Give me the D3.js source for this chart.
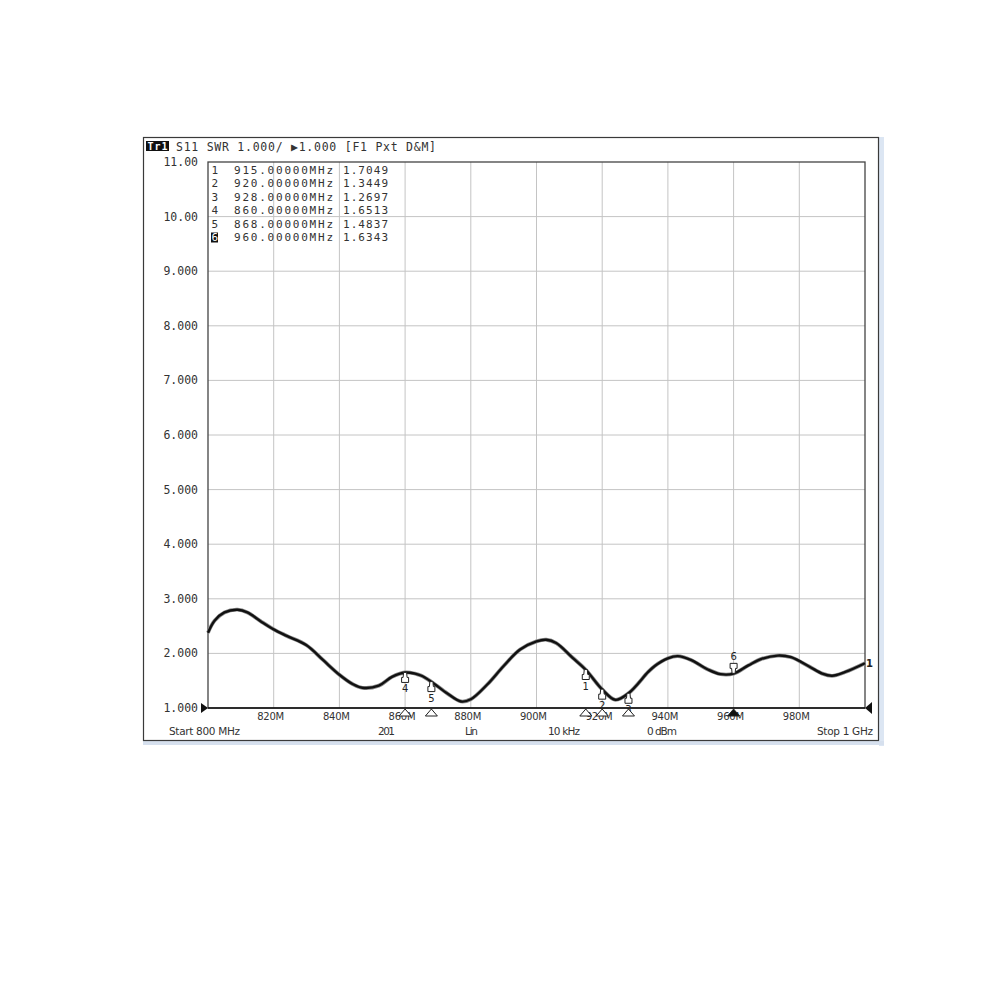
<!DOCTYPE html>
<html>
<head>
<meta charset="utf-8">
<script src="https://cdn.jsdelivr.net/npm/d3@7"></script>
<style>
    html, body { margin: 0; padding: 0; background: #ffffff; }
    svg { display: block; }
</style>
</head>
<body>
<script>
const width = 1000;
const height = 1000;

// trace (MHz, SWR)
const freqs = [800, 802, 805, 809, 812, 816, 820, 824, 830, 835, 840, 844, 847, 852, 856, 860, 863, 865, 868, 873, 877, 880, 885, 890, 895, 900, 903, 906, 911, 915, 920, 924, 928, 934, 936, 940, 943, 947, 952, 956, 960, 964.5, 968.5, 973.5, 977.5, 983, 987, 990, 994, 1000];
const swr = [2.38, 2.60, 2.75, 2.80, 2.75, 2.59, 2.44, 2.32, 2.15, 1.88, 1.61, 1.44, 1.37, 1.41, 1.57, 1.65, 1.63, 1.59, 1.48, 1.26, 1.12, 1.16, 1.43, 1.77, 2.07, 2.22, 2.25, 2.19, 1.92, 1.70, 1.34, 1.15, 1.27, 1.66, 1.77, 1.91, 1.95, 1.88, 1.71, 1.62, 1.63, 1.78, 1.90, 1.96, 1.93, 1.76, 1.63, 1.59, 1.66, 1.82];

// marker table
const markerIds = [1, 2, 3, 4, 5, 6];
const markerFreqs = [915, 920, 928, 860, 868, 960];
const markerValues = [1.7049, 1.3449, 1.2697, 1.6513, 1.4837, 1.6343];
const activeMarker = 6;

const yTicks = [11, 10, 9, 8, 7, 6, 5, 4, 3, 2, 1];
const yTickLabels = ["11.00", "10.00", "9.000", "8.000", "7.000", "6.000", "5.000", "4.000", "3.000", "2.000", "1.000"];
const xTicks = [820, 840, 860, 880, 900, 920, 940, 960, 980];
const xTickLabels = ["820M", "840M", "860M", "880M", "900M", "920M", "940M", "960M", "980M"];
const gridX = [820, 840, 860, 880, 900, 920, 940, 960, 980];

const headerText = "S11  SWR 1.000/ \u25B61.000  [F1 Pxt D&M]";
const footerTexts = ["Start 800 MHz", "201", "Lin", "10 kHz", "0 dBm", "Stop 1 GHz"];

const mono = "'DejaVu Sans Mono', 'Liberation Mono', monospace";
const sans = "'DejaVu Sans', Verdana, sans-serif";

const svg = d3.select("body").append("svg")
    .attr("width", width)
    .attr("height", height);

const plot = {left: 208, right: 865, top: 162, bottom: 708};

const x = d3.scaleLinear().domain([800, 1000]).range([plot.left, plot.right]);
const y = d3.scaleLinear().domain([1, 11]).range([plot.bottom, plot.top]);

// window frame
svg.append("rect")
    .attr("x", 879).attr("y", 137)
    .attr("width", 5).attr("height", 609)
    .attr("fill", "#dce6f3");
svg.append("rect")
    .attr("x", 143).attr("y", 741)
    .attr("width", 741).attr("height", 4)
    .attr("fill", "#d6e0ee");
svg.append("rect")
    .attr("x", 143.5).attr("y", 137.5)
    .attr("width", 735).attr("height", 603)
    .attr("fill", "#ffffff")
    .attr("stroke", "#3a3a3a")
    .attr("stroke-width", 1.2);

// grid
const grid = svg.append("g");
grid.selectAll("line.gx")
    .data(gridX)
    .join("line")
    .attr("x1", d => x(d)).attr("x2", d => x(d))
    .attr("y1", plot.top).attr("y2", plot.bottom)
    .attr("stroke", "#c4c4c4")
    .attr("stroke-width", 1);
grid.selectAll("line.gy")
    .data(yTicks.slice(1, -1))
    .join("line")
    .attr("x1", plot.left).attr("x2", plot.right)
    .attr("y1", d => y(d)).attr("y2", d => y(d))
    .attr("stroke", "#c4c4c4")
    .attr("stroke-width", 1);

// plot border
svg.append("rect")
    .attr("x", plot.left).attr("y", plot.top)
    .attr("width", plot.right - plot.left).attr("height", plot.bottom - plot.top)
    .attr("fill", "none")
    .attr("stroke", "#444")
    .attr("stroke-width", 1.3);
svg.append("line")
    .attr("x1", plot.left).attr("x2", plot.right)
    .attr("y1", y(1)).attr("y2", y(1))
    .attr("stroke", "#111")
    .attr("stroke-width", 1.6);

// header
svg.append("rect")
    .attr("x", 146).attr("y", 141)
    .attr("width", 23).attr("height", 10)
    .attr("fill", "#111");
svg.append("text")
    .attr("x", 147.5).attr("y", 150)
    .attr("font-family", mono)
    .attr("font-size", 10)
    .attr("font-weight", "bold")
    .attr("fill", "#fff")
    .attr("textLength", 20)
    .text("Tr1");
svg.append("text")
    .attr("x", 176).attr("y", 151)
    .attr("font-family", mono)
    .attr("font-size", 11.5)
    .attr("fill", "#333")
    .attr("textLength", 260)
    .attr("lengthAdjust", "spacing")
    .text(headerText);

// y labels
svg.append("g").selectAll("text")
    .data(yTicks)
    .join("text")
    .attr("x", 198)
    .attr("y", d => y(d) + 4)
    .attr("text-anchor", "end")
    .attr("font-family", mono)
    .attr("font-size", 11.5)
    .attr("fill", "#333")
    .text((d, i) => yTickLabels[i]);

// x labels
svg.append("g").selectAll("text")
    .data(xTicks)
    .join("text")
    .attr("x", d => x(d) - 3)
    .attr("y", 719.5)
    .attr("text-anchor", "middle")
    .attr("font-family", sans)
    .attr("font-size", 10)
    .attr("fill", "#333")
    .attr("textLength", 27)
    .attr("lengthAdjust", "spacing")
    .text((d, i) => xTickLabels[i]);

// footer
const footerX = [169, 378, 465, 548, 647, 817];
const footerW = [71, 17, 13, 32, 30, 56];
svg.append("g").selectAll("text")
    .data(footerTexts)
    .join("text")
    .attr("x", (d, i) => footerX[i])
    .attr("y", 735)
    .attr("font-family", sans)
    .attr("font-size", 10.5)
    .attr("fill", "#333")
    .attr("textLength", (d, i) => footerW[i])
    .text(d => d);

// marker table
const table = svg.append("g")
    .attr("font-family", mono)
    .attr("font-size", 11)
    .attr("fill", "#333");
markerIds.forEach((id, i) => {
    const ty = 174 + i * 13.4;
    if (id === activeMarker) {
        table.append("rect")
            .attr("x", 211).attr("y", ty - 8.5)
            .attr("width", 7).attr("height", 10)
            .attr("fill", "#111");
        table.append("text")
            .attr("x", 211.5).attr("y", ty)
            .attr("fill", "#fff")
            .text(id);
    } else {
        table.append("text")
            .attr("x", 211.5).attr("y", ty)
            .text(id);
    }
    table.append("text")
        .attr("x", 234).attr("y", ty)
        .attr("textLength", 99)
        .attr("lengthAdjust", "spacing")
        .text(markerFreqs[i].toFixed(5) + "MHz");
    table.append("text")
        .attr("x", 343).attr("y", ty)
        .attr("textLength", 45)
        .text(markerValues[i].toFixed(4));
});

// trace
const trace = freqs.map((f, i) => ({f: f, v: swr[i]}));
const line = d3.line()
    .x(d => x(d.f))
    .y(d => y(d.v))
    .curve(d3.curveCatmullRom.alpha(0.5));

svg.append("path")
    .datum(trace)
    .attr("d", line)
    .attr("fill", "none")
    .attr("stroke", "#8a8a8a")
    .attr("stroke-width", 3.8)
    .attr("stroke-linejoin", "round");
svg.append("path")
    .datum(trace)
    .attr("d", line)
    .attr("fill", "none")
    .attr("stroke", "#111")
    .attr("stroke-width", 2.4)
    .attr("stroke-linejoin", "round");

// markers on the trace
const mk = svg.append("g")
    .attr("font-family", sans)
    .attr("font-size", 10)
    .attr("fill", "#222");
markerIds.forEach((id, i) => {
    const px = x(markerFreqs[i]);
    const py = y(markerValues[i]);
    if (id === activeMarker) {
        mk.append("path")
            .attr("d", `M${px - 1.5},${py} L${px + 1.5},${py} L${px + 2},${py - 5} L${px + 3.5},${py - 5} L${px + 3.5},${py - 10} L${px - 3.5},${py - 10} L${px - 3.5},${py - 5} L${px - 2},${py - 5} Z`)
            .attr("fill", "#fff")
            .attr("stroke", "#222")
            .attr("stroke-width", 1);
        mk.append("text")
            .attr("x", px).attr("y", py - 13)
            .attr("text-anchor", "middle")
            .text(id);
    } else {
        mk.append("path")
            .attr("d", `M${px - 1.5},${py} L${px + 1.5},${py} L${px + 2},${py + 5} L${px + 3.5},${py + 5} L${px + 3.5},${py + 10} L${px - 3.5},${py + 10} L${px - 3.5},${py + 5} L${px - 2},${py + 5} Z`)
            .attr("fill", "#fff")
            .attr("stroke", "#222")
            .attr("stroke-width", 1);
        mk.append("text")
            .attr("x", px).attr("y", py + 20)
            .attr("text-anchor", "middle")
            .text(id);
    }
});

// marker position triangles under the axis
markerFreqs.forEach((f, i) => {
    const px = x(f);
    const active = markerIds[i] === activeMarker;
    svg.append("path")
        .attr("d", `M${px},${709} L${px + 6},${716} L${px - 6},${716} Z`)
        .attr("fill", active ? "#111" : "#fff")
        .attr("stroke", "#222")
        .attr("stroke-width", 1);
});

// reference level arrows
svg.append("path")
    .attr("d", `M${plot.left},${y(1)} L${plot.left - 7},${y(1) - 5} L${plot.left - 7},${y(1) + 5} Z`)
    .attr("fill", "#111");
svg.append("path")
    .attr("d", `M${plot.right},${y(1)} L${plot.right + 7},${y(1) - 6} L${plot.right + 7},${y(1) + 6} Z`)
    .attr("fill", "#111");

// trace label at the right edge
svg.append("text")
    .attr("x", plot.right + 1).attr("y", y(swr[swr.length - 1]) + 4)
    .attr("font-family", sans)
    .attr("font-size", 10)
    .attr("font-weight", "bold")
    .attr("fill", "#222")
    .text("1");
</script>
</body>
</html>
